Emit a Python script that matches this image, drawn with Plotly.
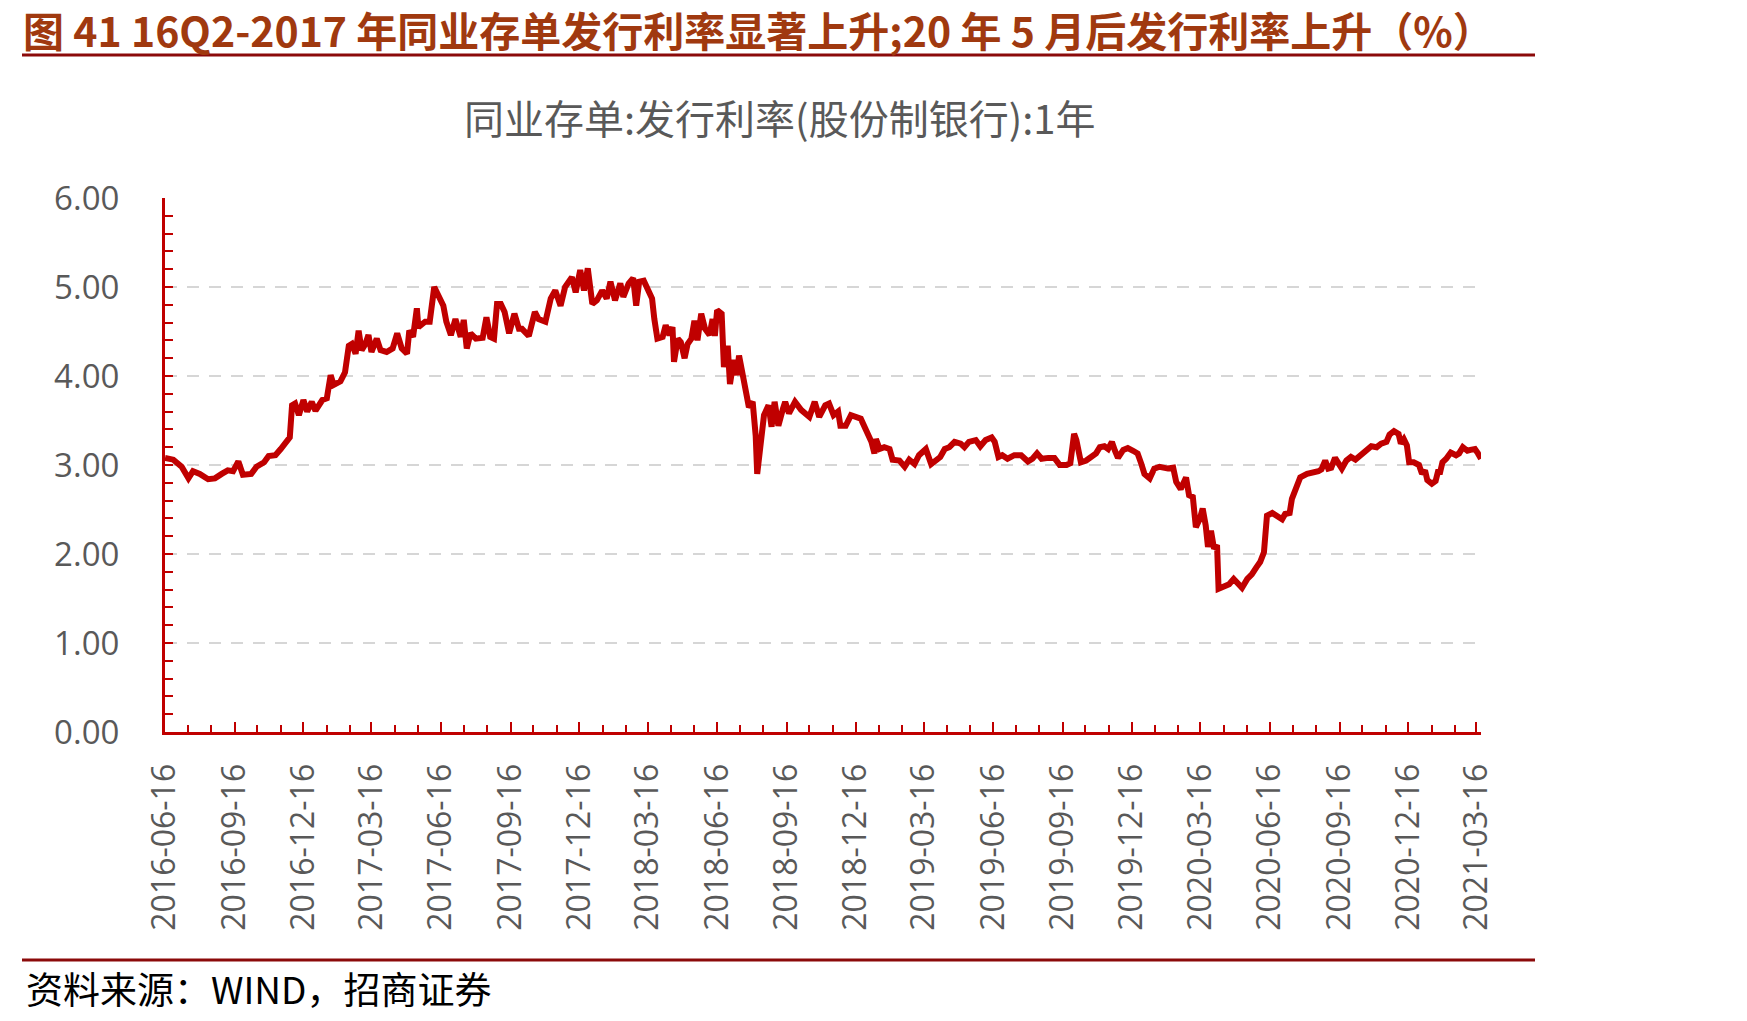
import plotly.graph_objects as go

# ---------------- data ----------------
dates = [
    "2016-06-16", "2016-06-27", "2016-07-08", "2016-07-17", "2016-07-23", "2016-08-01", "2016-08-12",
    "2016-08-21", "2016-08-30", "2016-09-07", "2016-09-14", "2016-09-21", "2016-09-27", "2016-10-08",
    "2016-10-15", "2016-10-25", "2016-10-31", "2016-11-09", "2016-11-16", "2016-11-22", "2016-11-28",
    "2016-12-01", "2016-12-05", "2016-12-10", "2016-12-16", "2016-12-21", "2016-12-27", "2017-01-01",
    "2017-01-10", "2017-01-16", "2017-01-21", "2017-01-25", "2017-02-03", "2017-02-09", "2017-02-14",
    "2017-02-18", "2017-02-23", "2017-02-27", "2017-03-03", "2017-03-08", "2017-03-12", "2017-03-16",
    "2017-03-23", "2017-03-28", "2017-04-05", "2017-04-13", "2017-04-19", "2017-04-25", "2017-05-02",
    "2017-05-05", "2017-05-10", "2017-05-15", "2017-05-17", "2017-05-26", "2017-06-01", "2017-06-07",
    "2017-06-12", "2017-06-19", "2017-06-23", "2017-06-29", "2017-07-05", "2017-07-12", "2017-07-16",
    "2017-07-20", "2017-07-25", "2017-08-01", "2017-08-10", "2017-08-15", "2017-08-20", "2017-08-25",
    "2017-08-29", "2017-09-03", "2017-09-08", "2017-09-14", "2017-09-21", "2017-09-27", "2017-10-01",
    "2017-10-10", "2017-10-18", "2017-10-23", "2017-11-01", "2017-11-08", "2017-11-14", "2017-11-21",
    "2017-11-27", "2017-12-06", "2017-12-11", "2017-12-17", "2017-12-22", "2017-12-27", "2018-01-02",
    "2018-01-08", "2018-01-15", "2018-01-21", "2018-01-26", "2018-02-01", "2018-02-08", "2018-02-12",
    "2018-02-19", "2018-02-25", "2018-03-01", "2018-03-05", "2018-03-11", "2018-03-18", "2018-03-22",
    "2018-03-25", "2018-03-29", "2018-04-05", "2018-04-09", "2018-04-14", "2018-04-18", "2018-04-20",
    "2018-04-25", "2018-04-29", "2018-05-04", "2018-05-08", "2018-05-13", "2018-05-17", "2018-05-21",
    "2018-05-26", "2018-05-31", "2018-06-06", "2018-06-10", "2018-06-13", "2018-06-16", "2018-06-22",
    "2018-06-25", "2018-06-30", "2018-07-03", "2018-07-08", "2018-07-12", "2018-07-15", "2018-07-19",
    "2018-07-24", "2018-07-28", "2018-08-02", "2018-08-06", "2018-08-08", "2018-08-13", "2018-08-17",
    "2018-08-23", "2018-08-27", "2018-08-31", "2018-09-05", "2018-09-11", "2018-09-14", "2018-09-19",
    "2018-09-27", "2018-10-05", "2018-10-16", "2018-10-23", "2018-10-29", "2018-11-06", "2018-11-11",
    "2018-11-17", "2018-11-23", "2018-11-26", "2018-12-03", "2018-12-10", "2018-12-17", "2018-12-23",
    "2018-12-30", "2019-01-06", "2019-01-10", "2019-01-12", "2019-01-17", "2019-01-23", "2019-01-30",
    "2019-02-03", "2019-02-12", "2019-02-19", "2019-02-25", "2019-03-04", "2019-03-10", "2019-03-19",
    "2019-03-26", "2019-04-02", "2019-04-07", "2019-04-13", "2019-04-19", "2019-04-26", "2019-05-04",
    "2019-05-09", "2019-05-15", "2019-05-24", "2019-05-30", "2019-06-06", "2019-06-14", "2019-06-18",
    "2019-06-23", "2019-06-28", "2019-07-05", "2019-07-14", "2019-07-23", "2019-08-01", "2019-08-07",
    "2019-08-13", "2019-08-19", "2019-08-28", "2019-09-05", "2019-09-12", "2019-09-21", "2019-09-26",
    "2019-10-01", "2019-10-04", "2019-10-10", "2019-10-17", "2019-10-24", "2019-10-30", "2019-11-04",
    "2019-11-10", "2019-11-15", "2019-11-20", "2019-11-24", "2019-11-28", "2019-12-05", "2019-12-11",
    "2019-12-18", "2019-12-24", "2019-12-29", "2020-01-02", "2020-01-09", "2020-01-15", "2020-01-22",
    "2020-02-02", "2020-02-09", "2020-02-13", "2020-02-19", "2020-02-26", "2020-03-01", "2020-03-06",
    "2020-03-10", "2020-03-15", "2020-03-19", "2020-03-23", "2020-03-26", "2020-03-30", "2020-04-03",
    "2020-04-07", "2020-04-09", "2020-04-16", "2020-04-23", "2020-04-29", "2020-05-06", "2020-05-10",
    "2020-05-17", "2020-05-23", "2020-05-29", "2020-06-03", "2020-06-08", "2020-06-12", "2020-06-19",
    "2020-06-25", "2020-07-02", "2020-07-06", "2020-07-12", "2020-07-15", "2020-07-21", "2020-07-26",
    "2020-08-04", "2020-08-13", "2020-08-19", "2020-08-23", "2020-08-28", "2020-09-01", "2020-09-05",
    "2020-09-10", "2020-09-14", "2020-09-19", "2020-09-25", "2020-10-01", "2020-10-07", "2020-10-13",
    "2020-10-19", "2020-10-28", "2020-11-04", "2020-11-10", "2020-11-17", "2020-11-21", "2020-11-27",
    "2020-12-03", "2020-12-06", "2020-12-10", "2020-12-14", "2020-12-17", "2020-12-23", "2020-12-30",
    "2021-01-03", "2021-01-07", "2021-01-10", "2021-01-16", "2021-01-21", "2021-01-24", "2021-01-27",
    "2021-01-30", "2021-02-04", "2021-02-10", "2021-02-17", "2021-02-21", "2021-02-26", "2021-03-04",
    "2021-03-08", "2021-03-14", "2021-03-18", "2021-03-22",
]

rates = [
    3.08, 3.06, 2.98, 2.85, 2.93, 2.90, 2.84,
    2.85, 2.90, 2.94, 2.93, 3.04, 2.89, 2.90,
    2.98, 3.03, 3.10, 3.11, 3.18, 3.26, 3.31,
    3.67, 3.69, 3.56, 3.73, 3.60, 3.71, 3.61,
    3.73, 3.75, 4.01, 3.90, 3.94, 4.04, 4.34,
    4.36, 4.25, 4.51, 4.29, 4.36, 4.46, 4.27,
    4.42, 4.29, 4.27, 4.31, 4.48, 4.31, 4.25,
    4.51, 4.44, 4.76, 4.55, 4.61, 4.61, 5.00,
    4.92, 4.79, 4.61, 4.46, 4.64, 4.44, 4.63,
    4.31, 4.48, 4.42, 4.43, 4.66, 4.44, 4.42,
    4.81, 4.81, 4.72, 4.48, 4.70, 4.53, 4.53,
    4.45, 4.72, 4.64, 4.61, 4.87, 4.96, 4.79,
    5.00, 5.11, 4.94, 5.19, 4.96, 5.21, 4.81,
    4.85, 4.96, 4.87, 5.06, 4.85, 5.04, 4.89,
    5.04, 5.10, 4.79, 5.06, 5.07, 4.96, 4.87,
    4.64, 4.42, 4.44, 4.57, 4.46, 4.55, 4.16,
    4.42, 4.38, 4.20, 4.36, 4.42, 4.62, 4.40,
    4.70, 4.53, 4.46, 4.64, 4.45, 4.74, 4.70,
    4.10, 4.34, 3.91, 4.18, 4.01, 4.23, 4.05,
    3.76, 3.65, 3.71, 3.33, 2.90, 3.26, 3.56,
    3.67, 3.43, 3.71, 3.44, 3.63, 3.71, 3.58,
    3.71, 3.62, 3.54, 3.71, 3.54, 3.67, 3.69,
    3.56, 3.60, 3.44, 3.44, 3.56, 3.53, 3.52,
    3.39, 3.26, 3.13, 3.29, 3.18, 3.20, 3.18,
    3.06, 3.05, 2.98, 3.06, 3.01, 3.11, 3.18,
    3.01, 3.07, 3.09, 3.18, 3.20, 3.26, 3.24,
    3.20, 3.26, 3.28, 3.21, 3.28, 3.31, 3.26,
    3.09, 3.11, 3.07, 3.11, 3.11, 3.04, 3.07,
    3.13, 3.07, 3.08, 3.08, 3.00, 3.00, 3.02,
    3.35, 3.28, 3.03, 3.05, 3.09, 3.13, 3.20,
    3.21, 3.18, 3.26, 3.16, 3.08, 3.17, 3.19,
    3.16, 3.13, 3.01, 2.90, 2.85, 2.96, 2.98,
    2.96, 2.97, 2.81, 2.73, 2.86, 2.66, 2.64,
    2.30, 2.39, 2.51, 2.32, 2.08, 2.26, 2.06,
    2.10, 1.61, 1.64, 1.66, 1.72, 1.66, 1.62,
    1.72, 1.77, 1.85, 1.91, 2.02, 2.43, 2.46,
    2.43, 2.39, 2.45, 2.46, 2.62, 2.75, 2.86,
    2.90, 2.91, 2.93, 2.95, 3.05, 2.96, 2.97,
    3.08, 3.03, 2.96, 3.05, 3.09, 3.06, 3.10,
    3.15, 3.21, 3.20, 3.24, 3.26, 3.34, 3.38,
    3.35, 3.24, 3.29, 3.22, 3.03, 3.03, 3.00,
    2.90, 2.94, 2.83, 2.79, 2.82, 2.92, 2.92,
    3.03, 3.07, 3.14, 3.11, 3.13, 3.20, 3.16,
    3.17, 3.18, 3.13, 3.07,
]

y_ticks = [0, 1, 2, 3, 4, 5, 6]
x_start = "2016-06-16"
x_end = "2021-03-22"

main_title = "图 41 16Q2-2017 年同业存单发行利率显著上升;20 年 5 月后发行利率上升（%）"
chart_title = "同业存单:发行利率(股份制银行):1年"
source_text = "资料来源：WIND，招商证券"

# ---------------- layout geometry ----------------
W_FIG, H_FIG = 1747, 1021
L, R, T, B = 165, 1481, 198, 732
W = R - L
H = B - T

def px(x):
    return (x - L) / W

def py(y):
    return 1 - (y - T) / H

RED = "#C00000"
DARK_RED = "#8B0A0A"
TITLE_COLOR = "#A0390F"
GRAY = "#595959"
TICK_FONT = "Open Sans"
CJK = "Noto Sans CJK SC"

fig = go.Figure()
fig.add_trace(go.Scatter(
    x=dates, y=rates, mode="lines",
    line=dict(color=RED, width=6),
    showlegend=False, hoverinfo="skip",
))

fig.update_layout(
    width=W_FIG, height=H_FIG,
    margin=dict(l=L, r=W_FIG - R, t=T, b=H_FIG - B, pad=0),
    paper_bgcolor="white", plot_bgcolor="white",
    showlegend=False,
)

fig.update_xaxes(
    type="date",
    range=[x_start, x_end],
    tick0=x_start, dtick="M3",
    tickformat="%Y-%m-%d",
    tickangle=-90,
    ticks="inside", ticklen=10, tickwidth=2, tickcolor=RED,
    minor=dict(ticks="inside", ticklen=7, tickwidth=2, tickcolor=RED,
               tick0=x_start, dtick="M1", showgrid=False),
    showline=True, linecolor=RED, linewidth=3,
    showgrid=False, zeroline=False,
    tickfont=dict(family=TICK_FONT, size=32, color=GRAY),
    ticklabelstandoff=16,
)

fig.update_yaxes(
    range=[0, 6],
    tickvals=y_ticks,
    tickformat=".2f",
    ticks="inside", ticklen=8, tickwidth=2, tickcolor=RED,
    minor=dict(ticks="inside", ticklen=8, tickwidth=2, tickcolor=RED,
               dtick=0.2, showgrid=False),
    showline=True, linecolor=RED, linewidth=3,
    showgrid=True, gridcolor="#D6D6D6", gridwidth=2, griddash="12px,10px",
    zeroline=False,
    tickfont=dict(family=TICK_FONT, size=33, color=GRAY),
    ticklabelstandoff=36,
)

# main title & rule
fig.add_annotation(
    text="<b>" + main_title + "</b>",
    xref="paper", yref="paper", x=px(22), y=py(29),
    xanchor="left", yanchor="middle", showarrow=False, borderpad=0,
    font=dict(family=CJK, size=41, color=TITLE_COLOR),
)
fig.add_shape(type="line", xref="paper", yref="paper",
              x0=px(22), x1=px(1535), y0=py(55), y1=py(55),
              line=dict(color=DARK_RED, width=3))

# chart title
fig.add_annotation(
    text=chart_title,
    xref="paper", yref="paper", x=px(779), y=py(117),
    xanchor="center", yanchor="middle", showarrow=False,
    font=dict(family=CJK, size=40, color=GRAY),
)

# footer rule & source
fig.add_shape(type="line", xref="paper", yref="paper",
              x0=px(22), x1=px(1535), y0=py(960), y1=py(960),
              line=dict(color=DARK_RED, width=3))
fig.add_annotation(
    text=source_text,
    xref="paper", yref="paper", x=px(24), y=py(988),
    xanchor="left", yanchor="middle", showarrow=False,
    font=dict(family=CJK, size=37, color="#000000"),
)

fig.write_html("out.html")
